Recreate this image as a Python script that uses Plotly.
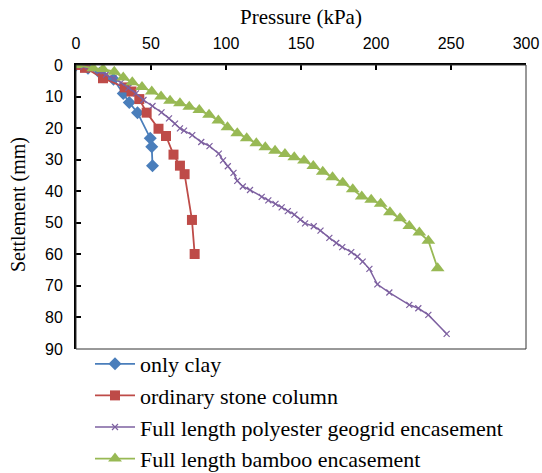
import plotly.graph_objects as go

# ---- data ----
clay_x = [0, 8, 16, 25, 31.5, 35.5, 41, 49.5, 50.5, 51]
clay_y = [0, 1.0, 2.5, 4.5, 9.0, 11.9, 15.1, 23.2, 25.9, 31.9]

osc_x = [0, 6, 18, 32.5, 37, 42.2, 47.1, 55, 60, 65, 69.3, 72.4, 77.3, 79.1]
osc_y = [0, 0.9, 4.2, 7.1, 8.4, 10.8, 15.1, 20.2, 22.5, 28.4, 31.9, 34.6, 49.1, 59.9]

poly_x = [0, 5, 10, 15, 20, 25, 30, 35, 40, 45, 51, 57, 62, 66, 69.3, 72, 77.5, 83.5,
          89, 95.2, 98, 101.2, 105, 107.5, 111.2, 116, 123.8, 128.2, 133, 137.1,
          141.2, 145.6, 149.6, 152.7, 158.5, 163, 168.9, 173.5, 177.5, 183.5,
          187.6, 191.1, 195.6, 200.9, 208.9, 222.2, 228.2, 234.9, 247.1]
poly_y = [0, 0.5, 1.2, 2.0, 3.0, 4.2, 5.6, 7.2, 9.0, 11.1, 13.0, 15.0, 16.9, 18.6,
          20.1, 20.8, 22.2, 24.4, 25.7, 28.1, 30.2, 32.1, 34.2, 36.7, 38.5, 39.6,
          41.8, 42.9, 44.0, 45.1, 46.3, 47.4, 49.0, 50.2, 51.1, 52.5, 54.8, 56.4,
          57.7, 59.3, 60.7, 62.3, 64.6, 69.5, 72.1, 76.0, 77.1, 79.2, 85.2]

bamboo_x = [0, 11.5, 18, 25.5, 31.5, 37.5, 44, 50.5, 56.7, 62.7, 69.3, 75.5, 82.2,
            88.7, 94.9, 101, 107.5, 113.8, 120.2, 126.2, 132.7, 139.3, 145.5, 152,
            158.2, 164.5, 171, 177.8, 184.5, 190.5, 196.8, 203.1, 209.3, 216, 222.2,
            228.9, 234.9, 241.1]
bamboo_y = [0, 1.0, 1.3, 2.1, 4.0, 5.5, 7.0, 8.4, 10.0, 11.3, 12.1, 13.2, 14.3, 15.8,
            17.6, 19.7, 21.6, 23.2, 24.8, 26.1, 27.2, 28.2, 29.2, 30.3, 32.0, 33.8,
            35.6, 37.3, 39.4, 41.7, 42.7, 44.0, 46.7, 48.6, 51.0, 53.1, 55.7, 64.4]

names = ["only clay", "ordinary stone column",
         "Full length polyester geogrid encasement", "Full length bamboo encasement"]

x_title = "Pressure (kPa)"
y_title = "Settlement (mm)"
x_ticks = [0, 50, 100, 150, 200, 250, 300]
y_ticks = [0, 10, 20, 30, 40, 50, 60, 70, 80, 90]

# ---- figure ----
fig = go.Figure()
fig.add_trace(go.Scatter(x=clay_x, y=clay_y, name=names[0], mode="lines+markers",
                         legendgroup="a",
                         line=dict(color="#4A7EBB", width=1.8),
                         marker=dict(symbol="diamond", size=10, color="#4A7EBB")))
fig.add_trace(go.Scatter(x=osc_x, y=osc_y, name=names[1], mode="lines+markers",
                         legendgroup="b",
                         line=dict(color="#BE4B48", width=1.8),
                         marker=dict(symbol="square", size=10, color="#BE4B48")))
fig.add_trace(go.Scatter(x=poly_x, y=poly_y, name=names[2], mode="lines+markers",
                         legendgroup="c",
                         line=dict(color="#7D60A0", width=1.5),
                         marker=dict(symbol="x-thin", size=6,
                                     line=dict(color="#7D60A0", width=1.2))))
fig.add_trace(go.Scatter(x=bamboo_x, y=bamboo_y, name=names[3], mode="lines+markers",
                         legendgroup="d",
                         line=dict(color="#98B954", width=1.8),
                         marker=dict(symbol="triangle-up", size=12, color="#98B954")))

serif = "Liberation Serif"
tickfont = dict(family="Liberation Sans", size=16, color="#000")
fig.update_layout(
    width=542, height=473,
    margin=dict(l=76, r=16, t=65, b=124, autoexpand=False),
    paper_bgcolor="white", plot_bgcolor="white",
    showlegend=True,
    legend=dict(xref="container", yref="container",
                x=90 / 542, y=1 - 343 / 473, xanchor="left", yanchor="top",
                font=dict(family=serif, size=22, color="#000"),
                itemwidth=40, tracegroupgap=0, bgcolor="rgba(0,0,0,0)"),
    xaxis=dict(side="top", range=[0, 300], tickvals=x_ticks, ticks="inside",
               ticklen=5, tickwidth=1.5, tickcolor="#000",
               showline=True, linecolor="#000", linewidth=2,
               showgrid=False, zeroline=False, tickfont=tickfont,
               ticklabelstandoff=8),
    yaxis=dict(range=[90, 0], tickvals=y_ticks, ticks="inside",
               ticklen=5, tickwidth=1.5, tickcolor="#000",
               showline=True, linecolor="#000", linewidth=2,
               showgrid=False, zeroline=False, tickfont=tickfont,
               ticklabelstandoff=8),
    annotations=[
        dict(text=x_title, xref="paper", yref="paper", x=0.5, y=1 + (65 - 17) / 284,
             xanchor="center", yanchor="middle", showarrow=False,
             font=dict(family=serif, size=21, color="#000")),
        dict(text=y_title, xref="paper", yref="paper", x=(18 - 76) / 450,
             y=1 - (205 - 65) / 284, textangle=-90,
             xanchor="center", yanchor="middle", showarrow=False,
             font=dict(family=serif, size=20, color="#000")),
    ],
)
fig.add_shape(type="rect", xref="x domain", yref="y domain", x0=0, x1=1, y0=0, y1=1,
              line=dict(color="#333", width=1), layer="above")

fig.write_html("out.html", config={"displayModeBar": False},
               post_script="document.body.style.margin='0';document.body.style.overflow='hidden';")
